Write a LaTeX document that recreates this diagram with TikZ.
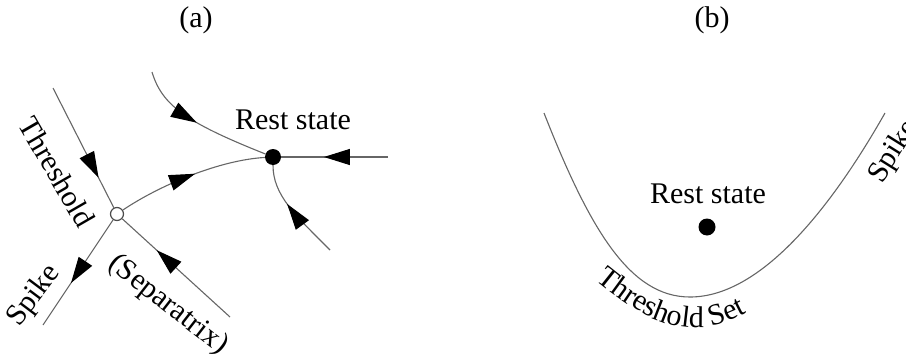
\documentclass[tikz,border=0pt]{standalone}
\usepackage{fontspec}
\setmainfont{Liberation Serif}
\usetikzlibrary{arrows.meta,decorations.markings,decorations.text}
\begin{document}
\begin{tikzpicture}[x=1pt,y=-1pt,
  curve/.style={draw=black!60, line width=1.1pt},
  arr/.style={postaction={decorate,decoration={markings,mark=at position #1 with {\arrow[black]{Triangle[length=26pt 0 0,width=16pt 0 0]}}}}},
  lbl/.style={font=\fontsize{30}{32}\selectfont, inner sep=0pt},
  fixpt/.style={circle, fill=black, minimum size=16pt, inner sep=0pt},
  saddlept/.style={circle, draw=black!70, fill=white, line width=1.2pt, minimum size=13pt, inner sep=0pt},
]
\useasboundingbox (0,0) rectangle (906,359);

% ---------- panel (a)
\node[lbl] (la) at (196,20) {(a)};
\node[fixpt] (restA) at (273,157) {};
\node[saddlept] (sad) at (117,214) {};
\coordinate (thTop) at (53,88);
\coordinate (sepEnd) at (230,317);
\coordinate (spEnd) at (43,325);
\coordinate (topS) at (152,72);
\coordinate (rightS) at (388,157);
\coordinate (botS) at (330,250);

\draw[curve, arr=0.75] (thTop) -- (sad);
\draw[curve, arr=0.68] (sepEnd) -- (sad);
\draw[curve, arr=0.6] (sad) -- (spEnd);
\draw[curve, arr=0.53] (sad) .. controls (160,185) and (220,160) .. (restA);
\draw[curve, arr=0.48] (topS) .. controls (162,105) and (185,122) .. (restA);
\draw[curve, arr=0.6] (rightS) -- (restA);
\draw[curve, arr=0.6] (botS) .. controls (295,215) and (273,195) .. (restA);

\node[lbl, rotate=-60] (thl) at (57,172) {Threshold};
\node[lbl, rotate=53] (spl) at (34,296) {Spike};
\node[lbl, rotate=-38] (sepl) at (168,305) {(Separatrix)};
\node[lbl, anchor=base] (rsa) at (293,129) {Rest state};

% ---------- panel (b)
\node[lbl] (lb) at (712,20) {(b)};
\node[fixpt, minimum size=17pt] (restB) at (707,227) {};
\draw[curve] (544,113) .. controls (590,230) and (630,297) .. (690,297)
             .. controls (760,297) and (830,210) .. (885,113);
\node[lbl, anchor=base] (rsb) at (708,203) {Rest state};
\node[lbl, rotate=58] (spb) at (894,152) {Spike};
\path[decorate, decoration={text along path, text align=center,
      text={|\fontsize{30}{32}\selectfont|Threshold{ }Set}}]
  (581,268) .. controls (630,310) and (660,328) .. (697,328)
            .. controls (715,328) and (739,318) .. (763,303);
\end{tikzpicture}
\end{document}
